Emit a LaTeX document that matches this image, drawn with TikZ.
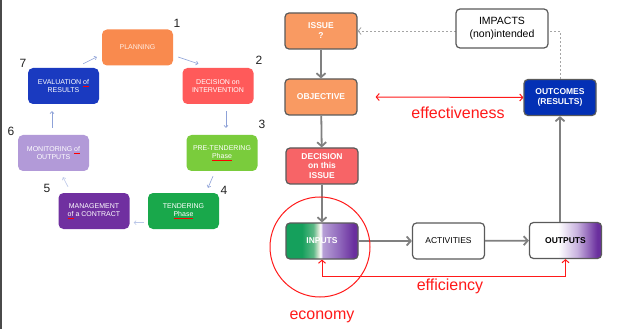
\documentclass[tikz,border=0pt]{standalone}
\usepackage{fontspec}
\setmainfont{Liberation Sans}
\usetikzlibrary{arrows.meta,calc}
\definecolor{plano}{HTML}{F98A4E}
\definecolor{decint}{HTML}{FF5A5A}
\definecolor{pregreen}{HTML}{7ACC3C}
\definecolor{tengreen}{HTML}{19A84B}
\definecolor{mgmtpurp}{HTML}{7030A0}
\definecolor{monlav}{HTML}{B29AD8}
\definecolor{evalblue}{HTML}{1A3AC0}
\definecolor{issueo}{HTML}{F99A62}
\definecolor{decred}{HTML}{F76467}
\definecolor{outblue}{HTML}{0330B5}
\definecolor{boxborder}{HTML}{5A5A5A}
\definecolor{arrowgrey}{HTML}{808080}
\definecolor{dashgrey}{HTML}{A5A5A5}
\definecolor{cycarrow}{HTML}{8EA2D8}
\definecolor{redline}{HTML}{FF1A1A}
\definecolor{ingreen}{HTML}{15A05C}
\definecolor{ingreen2}{HTML}{5DB886}
\definecolor{inpale}{HTML}{D6E6D2}
\definecolor{inlav}{HTML}{B7A0D6}
\definecolor{inmid}{HTML}{9068BC}
\definecolor{inpurp}{HTML}{6A2F9E}
\definecolor{outlav}{HTML}{C9B3DF}
\definecolor{numcol}{HTML}{222222}
\definecolor{leftline}{HTML}{4A4A4A}
\pgfdeclarehorizontalshading{inshade}{100bp}{color(0bp)=(ingreen); color(25bp)=(ingreen); color(36bp)=(ingreen); color(44bp)=(ingreen2); color(47.5bp)=(inpale); color(49bp)=(white); color(50.5bp)=(inlav); color(62bp)=(inmid); color(72bp)=(inpurp); color(100bp)=(inpurp)}
\pgfdeclarehorizontalshading{outshade}{100bp}{color(0bp)=(white); color(25bp)=(white); color(45bp)=(white); color(58bp)=(outlav); color(72bp)=(inpurp); color(100bp)=(inpurp)}
\newcommand{\redul}[1]{{\color{red}\underline{{\color{white}#1}}}}
\begin{document}
\begin{tikzpicture}[x=1pt,y=-1pt,
  lbox/.style={rounded corners=5pt, minimum width=71pt, minimum height=36pt, align=center, text=white, font=\fontsize{7}{8.5}\selectfont, inner sep=1pt},
  num/.style={text=numcol, font=\fontsize{12}{14}\selectfont, inner sep=0pt},
  cyc/.style={draw=cycarrow, line width=0.6pt, -{Straight Barb[length=2pt,width=4pt]}},
  rbox/.style={draw=boxborder, line width=1.2pt, rounded corners=4pt, minimum width=72pt, minimum height=36pt, inner sep=1pt, align=center, font=\fontsize{8.5}{10}\selectfont\bfseries, text=white},
  garrow/.style={draw=arrowgrey, line width=1.8pt, -{Straight Barb[length=4pt,width=9pt]}},
  rarrow/.style={draw=redline, line width=1pt, {Straight Barb[length=3pt,width=7pt]}-{Straight Barb[length=3pt,width=7pt]}},
  dasharrow/.style={draw=dashgrey, line width=0.8pt, dash pattern=on 2pt off 2pt, -{Straight Barb[length=3pt,width=7pt]}},
  redlabel/.style={text=redline, font=\fontsize{16}{18}\selectfont, inner sep=0pt}
]
\fill[white] (0,0) rectangle (641,329);
\useasboundingbox (0,0) rectangle (641,329);
\fill[leftline] (0,0) rectangle (2,329);

% ---- left cycle ----
\node[lbox, fill=plano, text=white!85!plano] (plan) at (137.5,47.5) {PLANNING};
\node[lbox, fill=decint] (dint) at (218,86) {DECISION on\\INTERVENTION};
\node[lbox, fill=pregreen] (pre) at (222,153) {PRE-TENDERING\\\redul{Phase}};
\node[lbox, fill=tengreen] (ten) at (183.5,211) {TENDERING\\\redul{Phase}};
\node[lbox, fill=mgmtpurp] (mgmt) at (94,211) {MANAGEMENT\\\redul{of} a CONTRACT};
\node[lbox, fill=monlav] (mon) at (53.5,153) {MONITORING \redul{of}\\OUTPUTS};
\node[lbox, fill=evalblue] (eval) at (63.5,86) {EVALUATION \redul{of}\\RESULTS};

\node[num] (n1) at (177,23) {1};
\node[num] (n2) at (259,60) {2};
\node[num] (n3) at (262,124) {3};
\node[num] (n4) at (224,190) {4};
\node[num] (n5) at (47,188) {5};
\node[num] (n6) at (11,131) {6};
\node[num] (n7) at (23,63) {7};

\draw[cyc] ($(plan.east)+(5,9.5)$) -- ($(dint.north west)+(16,-4)$);
\draw[cyc] ($(dint.south)+(8,7)$) -- ($(pre.north)+(4,-7)$);
\draw[cyc] ($(pre.south)+(-9,5)$) -- ($(ten.north)+(24.5,-5)$);
\draw[cyc, draw=cycarrow!60] ($(ten.west)+(-4,11.7)$) -- ($(mgmt.east)+(4,11.7)$);
\draw[cyc, draw=cycarrow!60] ($(mgmt.north)+(-26,-6)$) -- ($(mon.south)+(9.5,6)$);
\draw[cyc] ($(mon.north)+(-1.5,-7)$) -- ($(eval.south)+(-11.5,7)$);
\draw[cyc] ($(eval.north east)+(-16,-4)$) -- ($(plan.west)+(-5,9.5)$);

% ---- right logic model ----
\node[rbox, fill=issueo] (issue) at (321,31) {ISSUE\\?};
\node[rbox, fill=issueo] (obj) at (321,97) {OBJECTIVE};
\node[rbox, fill=decred, font=\fontsize{8.5}{9.5}\selectfont\bfseries] (dec) at (322,166) {DECISION\\on this\\ISSUE};
\node[rbox, shading=inshade, shade] (inputs) at (322,241) {INPUTS};
\node[rbox, fill=white, text=black, font=\fontsize{8.5}{10}\selectfont] (act) at (448.5,241) {ACTIVITIES};
\node[rbox, shading=outshade, shade, text=black] (outputs) at (565.5,240.5) {OUTPUTS};
\node[rbox, fill=outblue] (outc) at (560,97.5) {OUTCOMES\\(RESULTS)};

\draw[dasharrow] (outc.north) |- (issue.east);
\node[rbox, fill=white, text=black, minimum width=92pt, minimum height=39pt, font=\fontsize{10.5}{12.5}\selectfont] (imp) at (502,28.5) {IMPACTS\\(non)intended};

\draw[garrow] (issue) -- (obj);
\draw[garrow] (obj) -- (dec);
\draw[garrow] (dec) -- (inputs);
\draw[garrow] (inputs) -- (act);
\draw[garrow] (act) -- (outputs);
\draw[garrow] (outputs.north -| outc.south) -- (outc.south);

\draw[rarrow] ([xshift=18pt]obj.east) -- (outc.west);
\node[redlabel] (effl) at (458,113) {effectiveness};
\draw[rarrow] (inputs.south) -- ++(0,17) -| (outputs.south);
\node[redlabel] (effc) at (450,286) {efficiency};
\draw[draw=redline, line width=1pt] (320,247) circle[radius=50pt];
\node[redlabel] (econ) at (322,317) {economy};
\end{tikzpicture}
\end{document}
